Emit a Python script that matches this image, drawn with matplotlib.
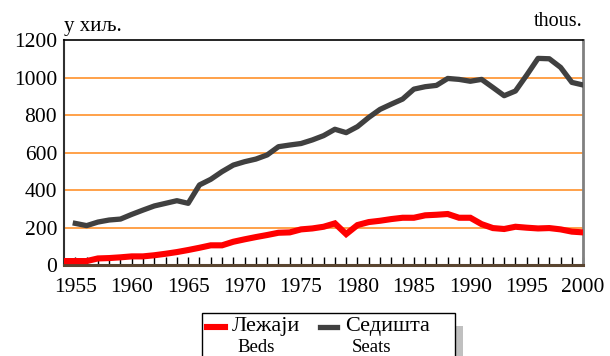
import numpy as np
import matplotlib.pyplot as plt
from matplotlib.lines import Line2D
from matplotlib.patches import Rectangle

# Година и капацитети (у хиљадама)
years_beds = np.arange(1954, 2001)
beds = [21, 21, 21, 35, 37, 41, 46, 46, 52, 60, 69, 80, 92, 105, 105, 124,
        137, 149, 160, 172, 174, 190, 195, 204, 222, 165, 213, 229, 236, 245,
        252, 252, 265, 268, 272, 252, 252, 218, 197, 192, 204, 199, 195, 197,
        190, 178, 174]

years_seats = np.arange(1955, 2001)
seats = [222, 210, 229, 240, 245, 270, 293, 315, 329, 343, 329, 427, 457, 498,
         533, 551, 565, 587, 631, 640, 648, 667, 690, 724, 706, 738, 787, 830,
         858, 885, 938, 951, 958, 995, 990, 980, 990, 947, 903, 928, 1013, 1102,
         1100, 1054, 974, 960]

yticks = [0, 200, 400, 600, 800, 1000, 1200]
xlabels = [1955, 1960, 1965, 1970, 1975, 1980, 1985, 1990, 1995, 2000]

plt.rcParams['font.family'] = ['Liberation Serif', 'DejaVu Serif']

fig = plt.figure(figsize=(6.1, 3.56), dpi=100)
ax = fig.add_axes([0.105, 0.2556, 0.851, 0.632])

for v in yticks[1:-1]:
    ax.axhline(v, color='#FF9A3C', lw=1.3, zorder=1)

ax.plot(years_beds, beds, color='#FF0000', lw=4.4, solid_joinstyle='miter', zorder=3)
ax.plot(years_seats, seats, color='#404040', lw=3.8, zorder=3)

ax.set_xlim(1954, 2000)
ax.set_ylim(0, 1200)
ax.set_yticks(yticks)
ax.set_xticks(xlabels)
ax.set_xticks(np.arange(1955, 2001), minor=True)
ax.tick_params(axis='y', length=0, pad=5, labelsize=15.5)
ax.tick_params(axis='x', which='both', direction='in', length=6, width=1,
               color='black', pad=9, labelsize=15.5)

ax.spines['top'].set_color('black')
ax.spines['top'].set_linewidth(1.2)
ax.spines['left'].set_color('#303030')
ax.spines['left'].set_linewidth(1.5)
ax.spines['right'].set_color('#808080')
ax.spines['right'].set_linewidth(2)
ax.spines['bottom'].set_color('#5a4530')
ax.spines['bottom'].set_linewidth(2.2)

fig.text(64 / 610, 1 - 26 / 356, 'у хиљ.', fontsize=15, va='center', ha='left')
fig.text(583 / 610, 1 - 21 / 356, 'thous.', fontsize=14.5, va='center', ha='right')

# легенда испод графика
W, H = 610, 356
fig.patches.append(Rectangle((455 / W, 0), 8 / W, 30 / H, transform=fig.transFigure,
                             facecolor='#C0C0C0', edgecolor='none'))
fig.patches.append(Rectangle((202 / W, -0.01), 253 / W, (H - 313) / H + 0.01,
                             transform=fig.transFigure, facecolor='white',
                             edgecolor='black', lw=1))
fig.lines.append(Line2D([207 / W, 225 / W], [1 - 327 / H] * 2, transform=fig.transFigure,
                        color='#FF0000', lw=4.4))
fig.lines.append(Line2D([320 / W, 337 / W], [1 - 327 / H] * 2, transform=fig.transFigure,
                        color='#404040', lw=3.8))
fig.text(232 / W, 1 - 327 / H, 'Лежаји', fontsize=16, va='center', ha='left')
fig.text(345 / W, 1 - 327 / H, 'Седишта', fontsize=16, va='center', ha='left')
fig.text(237 / W, 1 - 348 / H, 'Beds', fontsize=13.5, va='center', ha='left')
fig.text(352 / W, 1 - 348 / H, 'Seats', fontsize=13.5, va='center', ha='left')

fig.savefig('out.png', dpi=100)
